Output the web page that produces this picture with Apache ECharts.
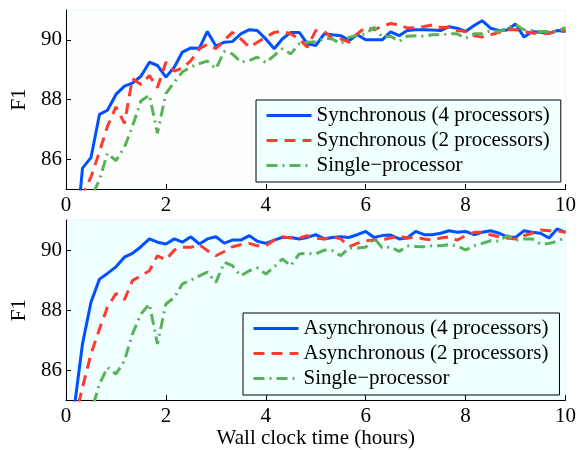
<!DOCTYPE html>
<html>
<head>
<meta charset="utf-8">
<title>F1 vs wall clock time</title>
<script src="https://cdn.jsdelivr.net/npm/echarts@6/dist/echarts.min.js"></script>
<style>html,body{margin:0;padding:0;background:#fff;}</style>
</head>
<body>
<div id="chart" style="width:579px;height:450px;"></div>
<script type="text/javascript">
// sample times (hours), one every 10 minutes
var hours = [0.17,0.33,0.5,0.67,0.83,1,1.17,1.33,1.5,1.67,
	1.83,2,2.17,2.33,2.5,2.67,2.83,3,3.17,3.33,
	3.5,3.67,3.83,4,4.17,4.33,4.5,4.67,4.83,5,
	5.17,5.33,5.5,5.67,5.83,6,6.17,6.33,6.5,6.67,
	6.83,7,7.17,7.33,7.5,7.67,7.83,8,8.17,8.33,
	8.5,8.67,8.83,9,9.17,9.33,9.5,9.67,9.83,10];

// top panel
var sync4 = [82.8,85.7,86.05,87.5,87.64,88.17,88.45,88.55,88.78,89.25,
	89.14,88.75,89.09,89.59,89.73,89.72,90.28,89.79,89.92,89.94,
	90.2,90.34,90.31,90.03,89.7,90.03,90.25,90.25,89.87,89.81,
	90.2,90.17,90.14,89.98,90.17,90.0,90.0,90.0,90.27,90.14,
	90.31,90.34,90.34,90.33,90.31,90.44,90.39,90.28,90.48,90.64,
	90.39,90.31,90.33,90.53,90.09,90.28,90.25,90.22,90.31,90.28];
var sync2 = [83.5,84.8,85.4,86.25,87.1,87.75,87.2,88.7,88.5,88.8,
	88.4,89.25,88.95,89.05,89.3,89.7,89.85,89.7,89.98,90.25,
	90.03,89.75,89.92,90.09,90.25,90.28,90.2,90.03,89.75,90.31,
	90.28,90.05,90.03,89.92,90.2,90.42,90.34,90.45,90.55,90.5,
	90.4,90.41,90.45,90.5,90.41,90.42,90.31,90.28,90.14,90.09,
	90.17,90.25,90.34,90.34,90.28,90.23,90.2,90.23,90.28,90.31];
var singleTop = [83.5,84.0,84.7,85.31,86.2,85.95,86.4,87.1,87.95,88.15,
	86.87,88.2,88.59,88.92,89.09,89.2,89.29,89.03,89.61,89.53,
	89.25,89.31,89.42,89.23,89.48,89.7,89.53,89.87,89.92,89.94,
	90.05,90.03,89.87,90.09,90.14,90.2,90.42,90.09,90.12,89.95,
	90.12,90.14,90.12,90.17,90.17,90.2,90.2,90.05,90.2,90.2,
	90.31,90.28,90.39,90.5,90.34,90.31,90.28,90.28,90.28,90.42];

// bottom panel
var async4 = [84.8,86.87,88.26,89.03,89.22,89.44,89.76,89.89,90.11,90.37,
	90.26,90.2,90.37,90.26,90.44,90.2,90.37,90.44,90.23,90.33,
	90.33,90.48,90.29,90.22,90.33,90.42,90.42,90.37,90.42,90.51,
	90.37,90.42,90.44,90.42,90.51,90.62,90.42,90.48,90.5,90.37,
	90.4,90.62,90.51,90.51,90.56,90.64,90.59,90.62,90.51,90.59,
	90.64,90.56,90.44,90.42,90.64,90.59,90.56,90.4,90.7,90.59];
var async2 = [84.3,85.42,86.53,87.37,88.09,88.55,88.35,88.98,89.14,89.31,
	89.81,89.67,90.0,90.09,90.09,90.18,89.98,89.81,89.95,90.11,
	90.18,90.22,90.14,90.14,90.33,90.44,90.4,90.4,90.48,90.4,
	90.37,90.44,90.37,90.11,90.22,90.31,90.33,90.33,90.41,90.46,
	90.4,90.42,90.37,90.33,90.4,90.44,90.33,90.48,90.59,90.59,
	90.51,90.44,90.4,90.37,90.48,90.56,90.67,90.64,90.64,90.59];
var singleBottom = [83.5,84.0,84.6,85.53,86.09,85.87,86.31,87.2,87.87,88.2,
	86.87,88.2,88.42,88.87,89.0,89.14,89.26,88.92,89.59,89.48,
	89.14,89.31,89.4,89.2,89.44,89.7,89.48,89.87,89.89,89.87,
	90.0,89.98,89.81,90.07,90.07,90.09,90.4,90.07,90.1,89.95,
	90.14,90.12,90.11,90.14,90.14,90.18,90.14,90.0,90.14,90.22,
	90.31,90.29,90.48,90.33,90.37,90.37,90.2,90.22,90.29,90.42];

var xTicks = [0, 2, 4, 6, 8, 10];
var yTicks = [86, 88, 90];
var namesTop = ['Synchronous (4 processors)', 'Synchronous (2 processors)', 'Single\u2212processor'];
var namesBottom = ['Asynchronous (4 processors)', 'Asynchronous (2 processors)', 'Single\u2212processor'];

var font = 'Liberation Serif';
var fs = 21;
var blue = '#0050ff', red = '#ff3b2f', green = '#58b358';

function pairs(vals) {
	return hours.map(function (h, i) { return [h, vals[i]]; });
}

function xAxis(idx, name) {
	return {
		type: 'value', gridIndex: idx, min: xTicks[0], max: xTicks[xTicks.length - 1], interval: 2,
		name: name || '', nameLocation: 'middle', nameGap: 27,
		nameTextStyle: {color: '#000', fontFamily: font, fontSize: fs},
		axisLine: {show: true, lineStyle: {color: '#000', width: 1}},
		axisTick: {show: true, inside: true, length: 5, lineStyle: {color: '#000'}},
		axisLabel: {color: '#000', fontFamily: font, fontSize: fs, margin: 6},
		splitLine: {show: false}
	};
}

function yAxis(idx) {
	return {
		type: 'value', gridIndex: idx, min: 85, max: 91,
		name: 'F1', nameLocation: 'middle', nameGap: 31, nameRotate: 90,
		nameTextStyle: {color: '#000', fontFamily: font, fontSize: fs},
		axisLine: {show: true, lineStyle: {color: '#000', width: 1}},
		axisTick: {show: true, inside: true, length: 5, customValues: yTicks, lineStyle: {color: '#000'}},
		axisLabel: {color: '#000', fontFamily: font, fontSize: fs, margin: 4, customValues: yTicks},
		splitLine: {show: false}
	};
}

function line(name, idx, vals, color, type) {
	return {
		name: name, type: 'line', xAxisIndex: idx, yAxisIndex: idx,
		data: pairs(vals), showSymbol: false, symbol: 'none', clip: true,
		lineStyle: {color: color, width: 3, type: type},
		itemStyle: {color: color}
	};
}

function legend(names, left, top) {
	return {
		data: names, orient: 'vertical', left: left, top: top,
		itemWidth: 45, itemHeight: 12, itemGap: 4,
		padding: [5, 11, 6, 9],
		backgroundColor: '#f0ffff', borderColor: '#000', borderWidth: 1,
		itemStyle: {opacity: 0},
		lineStyle: {width: 3},
		textStyle: {color: '#000', fontFamily: font, fontSize: fs, lineHeight: 21},
		selectedMode: false
	};
}

var option = {
	animation: false,
	backgroundColor: '#fff',
	grid: [
		{left: 66, right: 9, top: 10, height: 179, show: true, backgroundColor: '#fdffff', borderColor: '#e6f8f8', borderWidth: 1},
		{left: 66, right: 9, top: 220, height: 181, show: true, backgroundColor: '#f0ffff', borderColor: '#e6f8f8', borderWidth: 1}
	],
	xAxis: [xAxis(0), xAxis(1, 'Wall clock time (hours)')],
	yAxis: [yAxis(0), yAxis(1)],
	legend: [legend(namesTop, 256, 100), legend(namesBottom, 243, 313)],
	series: [
		line(namesTop[0], 0, sync4, blue, 'solid'),
		line(namesTop[1], 0, sync2, red, [11, 7]),
		line(namesTop[2], 0, singleTop, green, [11, 5, 2, 5]),
		line(namesBottom[0], 1, async4, blue, 'solid'),
		line(namesBottom[1], 1, async2, red, [11, 7]),
		line(namesBottom[2], 1, singleBottom, green, [11, 5, 2, 5])
	]
};

var myChart = echarts.init(document.getElementById('chart'));
myChart.setOption(option, true);
</script>
</body>
</html>
